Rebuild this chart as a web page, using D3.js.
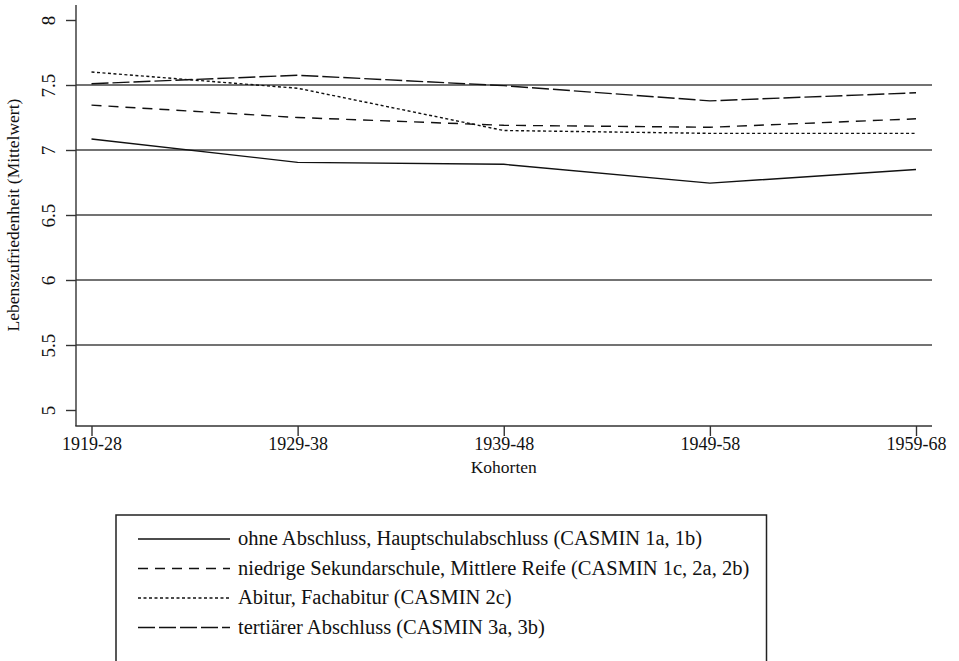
<!DOCTYPE html>
<meta charset="utf-8">
<style>
    body { margin: 0; background: #fff; }
    text { font-family: "Liberation Serif", "Times New Roman", serif; fill: #111; }
</style>
<script src="https://d3js.org/d3.v7.min.js"></script>
<svg id="chart" width="959" height="661"></svg>
<script>
    // data
    var cohorts = ["1919-28", "1929-38", "1939-48", "1949-58", "1959-68"];
    var ohne = [7.085, 6.905, 6.89, 6.745, 6.85];
    var niedrig = [7.345, 7.25, 7.19, 7.175, 7.24];
    var abitur = [7.60, 7.475, 7.15, 7.128, 7.128];
    var tertiaer = [7.51, 7.575, 7.495, 7.378, 7.44];
    var yTicks = [5, 5.5, 6, 6.5, 7, 7.5, 8];
    var gridValues = [5.5, 6, 6.5, 7, 7.5];

    var series = [
        { name: "ohne Abschluss, Hauptschulabschluss (CASMIN 1a, 1b)", values: ohne, dash: null },
        { name: "niedrige Sekundarschule, Mittlere Reife (CASMIN 1c, 2a, 2b)", values: niedrig, dash: "10,7" },
        { name: "Abitur, Fachabitur (CASMIN 2c)", values: abitur, dash: "3,2.5" },
        { name: "tertiärer Abschluss (CASMIN 3a, 3b)", values: tertiaer, dash: "17,4" }
    ];

    var svg = d3.select("#chart");

    var x = d3.scalePoint()
        .domain(cohorts)
        .range([91.5, 916]);

    var y = d3.scaleLinear()
        .domain([5, 8])
        .range([410, 20]);

    // grid lines
    svg.append("g")
        .selectAll("line")
        .data(gridValues)
        .enter().append("line")
        .attr("x1", 76)
        .attr("x2", 932)
        .attr("y1", function(d) { return y(d); })
        .attr("y2", function(d) { return y(d); })
        .style("stroke", "#444")
        .style("stroke-width", 1.7);

    // y axis
    var yAxis = svg.append("g")
        .attr("transform", "translate(76,0)")
        .call(d3.axisLeft(y).tickValues(yTicks).tickSize(10).tickFormat(d3.format("")));
    yAxis.select(".domain").attr("d", "M0,5V426");
    yAxis.selectAll("line, path").style("stroke", "#333").style("stroke-width", 1.4);
    yAxis.selectAll("text")
        .attr("x", null).attr("y", null).attr("dy", null)
        .attr("transform", "translate(-21,0) rotate(-90)")
        .attr("text-anchor", "middle")
        .style("font-size", "19px");

    // x axis
    var xAxis = svg.append("g")
        .attr("transform", "translate(0,426)")
        .call(d3.axisBottom(x).tickSize(10));
    xAxis.select(".domain").attr("d", "M75.3,0H932");
    xAxis.selectAll("line, path").style("stroke", "#333").style("stroke-width", 1.4);
    xAxis.selectAll("text")
        .attr("y", 24).attr("dy", null)
        .style("font-size", "18px");

    // axis titles
    svg.append("text")
        .attr("transform", "translate(19,215) rotate(-90)")
        .attr("text-anchor", "middle")
        .style("font-size", "17.5px")
        .text("Lebenszufriedenheit (Mittelwert)");

    svg.append("text")
        .attr("x", (91.5 + 916) / 2)
        .attr("y", 473)
        .attr("text-anchor", "middle")
        .style("font-size", "17.5px")
        .text("Kohorten");

    // series
    var line = d3.line()
        .x(function(d, i) { return x(cohorts[i]); })
        .y(function(d) { return y(d); });

    svg.append("g")
        .selectAll("path")
        .data(series)
        .enter().append("path")
        .attr("d", function(d) { return line(d.values); })
        .style("fill", "none")
        .style("stroke", "#111")
        .style("stroke-width", 1.4)
        .style("stroke-dasharray", function(d) { return d.dash; });

    // legend
    var legend = svg.append("g");
    legend.append("rect")
        .attr("x", 116)
        .attr("y", 515)
        .attr("width", 650.5)
        .attr("height", 160)
        .style("fill", "#fff")
        .style("stroke", "#222")
        .style("stroke-width", 1.5);

    var item = legend.selectAll(".legend-item")
        .data(series)
        .enter().append("g")
        .attr("class", "legend-item")
        .attr("transform", function(d, i) { return "translate(0," + (539 + i * 29.5) + ")"; });

    item.append("line")
        .attr("x1", 138)
        .attr("x2", 230)
        .style("stroke", "#111")
        .style("stroke-width", 1.4)
        .style("stroke-dasharray", function(d) { return d.dash; });

    item.append("text")
        .attr("x", 238)
        .attr("y", 6)
        .style("font-size", "20.5px")
        .text(function(d) { return d.name; });
</script>
